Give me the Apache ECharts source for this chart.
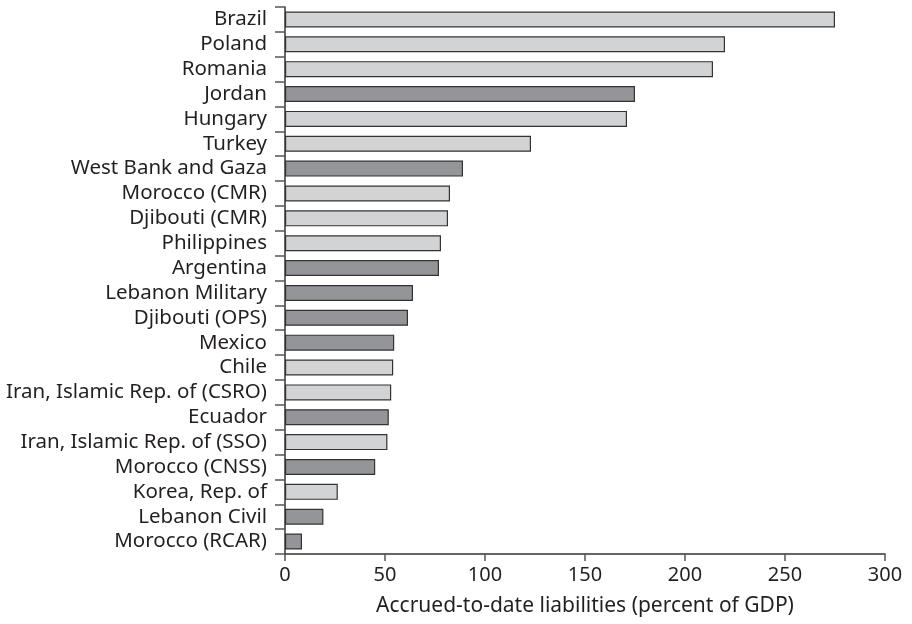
<!DOCTYPE html>
<html><head><meta charset="utf-8">
<script src="https://cdn.jsdelivr.net/npm/echarts@6/dist/echarts.min.js"></script>
<style>html,body{margin:0;padding:0;background:#fff}#c{width:912px;height:624px}</style>
</head><body><div id="c"></div>
<script>
const categories = ["Brazil","Poland","Romania","Jordan","Hungary","Turkey","West Bank and Gaza","Morocco (CMR)","Djibouti (CMR)","Philippines","Argentina","Lebanon Military","Djibouti (OPS)","Mexico","Chile","Iran, Islamic Rep. of (CSRO)","Ecuador","Iran, Islamic Rep. of (SSO)","Morocco (CNSS)","Korea, Rep. of","Lebanon Civil","Morocco (RCAR)"];
const values = [275,220,214,175,171,123,89,82.5,81.5,78,77,64,61.5,54.6,54.1,53.1,51.9,51.2,45.1,26.4,19.2,8.5];
const darkFlags = [0,0,0,1,0,0,1,0,0,0,1,1,1,1,0,0,1,0,1,0,1,1];
const xTicks = [0,50,100,150,200,250,300];
const LIGHT = '#d2d3d5', DARK = '#939598';
const chart = echarts.init(document.getElementById('c'));
const font = 'Noto Sans';
chart.setOption({
  animation:false,
  grid:{left:285,right:27,top:7,bottom:70},
  xAxis:{type:'value',min:xTicks[0],max:xTicks[xTicks.length-1],interval:xTicks[1]-xTicks[0],
    name:'Accrued-to-date liabilities (percent of GDP)',nameLocation:'middle',nameGap:42,
    nameTextStyle:{fontFamily:font,fontSize:21,color:'#231f20'},
    axisLine:{show:true,lineStyle:{color:'#333',width:1.5}},
    axisTick:{show:true,length:7,lineStyle:{color:'#555',width:1.5}},
    axisLabel:{fontFamily:font,fontSize:20,color:'#231f20',margin:11},
    splitLine:{show:false}},
  yAxis:{type:'category',data:categories,inverse:true,
    axisLine:{show:true,lineStyle:{color:'#333',width:1.5}},
    axisTick:{show:true,interval:0,length:10,alignWithLabel:false,lineStyle:{color:'#555',width:1.5}},
    axisLabel:{interval:0,fontFamily:font,fontSize:20.5,lineHeight:22,color:'#231f20',margin:18}},
  series:[{type:'bar',barWidth:16,
    data:values.map((v,i)=>({value:v,itemStyle:{color:darkFlags[i]?DARK:LIGHT}})),
    itemStyle:{borderColor:'#333',borderWidth:1.2}}]
});
</script></body></html>
